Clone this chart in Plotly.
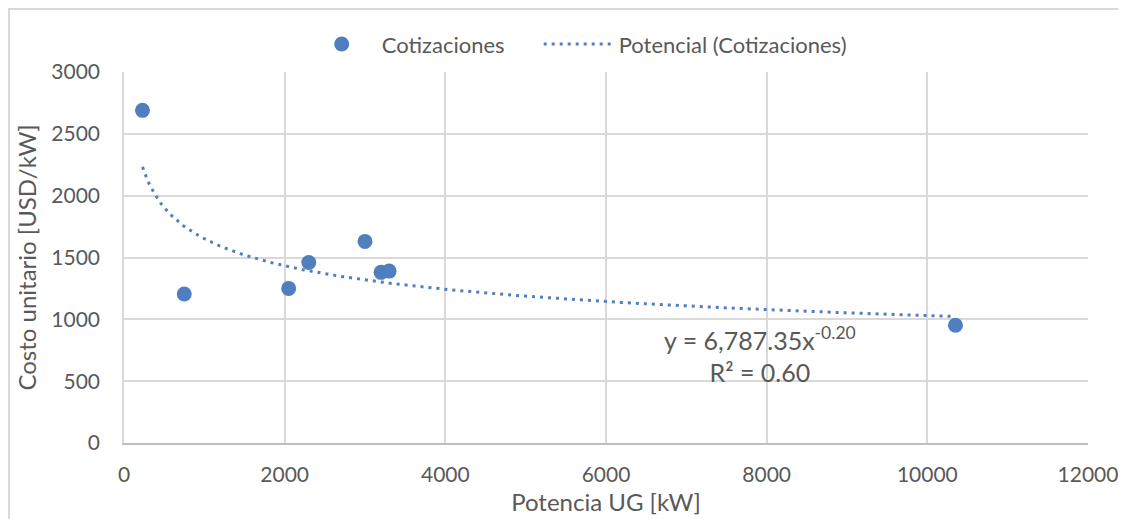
import numpy as np
import plotly.graph_objects as go

# Data
potencia_kw = [230, 750, 2050, 2300, 3000, 3200, 3300, 10350]
costo_usd_kw = [2690, 1205, 1250, 1460, 1630, 1380, 1390, 952]

x_ticks = [0, 2000, 4000, 6000, 8000, 10000, 12000]
y_ticks = [0, 500, 1000, 1500, 2000, 2500, 3000]

series_name = "Cotizaciones"
trend_name = "Potencial (Cotizaciones)"
eq_text = "y = 6,787.35x<sup>-0.20</sup><br>R² = 0.60"
title_text = "<b>Figura 3. Regresión de Costo Unitario vs Potencia Cotizada</b>"

# Power-law regression (same as Excel "Potencial" trendline)
lx = np.log(potencia_kw)
ly = np.log(costo_usd_kw)
b, ln_a = np.polyfit(lx, ly, 1)
a = np.exp(ln_a)
xt = np.linspace(min(potencia_kw), max(potencia_kw), 300)
yt = a * xt ** b

blue = "#4f7fbf"
grid = "#d9d9d9"
txt = "#595959"
font = "Lato"

fig = go.Figure()
fig.add_trace(go.Scatter(
    x=potencia_kw, y=costo_usd_kw, mode="markers", name=series_name,
    marker=dict(size=15, color=blue), legendwidth=152,
))
fig.add_trace(go.Scatter(
    x=xt, y=yt, mode="lines", name=trend_name,
    line=dict(color=blue, width=3, dash="3px,5px"),
))

fig.add_annotation(
    x=7920, y=712, xref="x", yref="y", text=eq_text, showarrow=False,
    font=dict(family=font, size=25, color=txt), align="center",
)

fig.add_annotation(
    x=0.473, y=1.1644, xref="paper", yref="paper", text=title_text, showarrow=False,
    font=dict(family=font, size=17, color="#000000"), yanchor="bottom",
)

# outer chart border
fig.add_shape(
    type="rect", xref="paper", yref="paper",
    x0=-0.1193, y0=-0.4, x1=1.2, y1=1.1698,
    line=dict(color=grid, width=2), fillcolor="rgba(0,0,0,0)", layer="below",
)

fig.update_layout(
    width=1126, height=519,
    margin=dict(l=116, r=46, t=64, b=84),
    paper_bgcolor="white", plot_bgcolor="white",
    font=dict(family=font, color=txt, size=21),
    legend=dict(
        orientation="h", x=0.4696, y=1.075, xanchor="center", yanchor="middle",
        font=dict(family=font, size=22, color=txt), itemwidth=70,
        bgcolor="rgba(0,0,0,0)",
    ),
    showlegend=True,
)
fig.update_xaxes(
    range=[0, 12000], tickvals=x_ticks, ticktext=[str(v) for v in x_ticks],
    showgrid=True, gridcolor=grid, gridwidth=1.5, zeroline=False,
    showline=True, linecolor="#bfbfbf", linewidth=1.5,
    ticks="", ticklabelstandoff=12,
    title=dict(text="Potencia UG [kW]", font=dict(family=font, size=24, color=txt), standoff=9),
    tickfont=dict(family=font, size=21, color=txt),
)
fig.update_yaxes(
    range=[0, 3000], tickvals=y_ticks, ticktext=[str(v) for v in y_ticks],
    showgrid=True, gridcolor=grid, gridwidth=1.5, zeroline=False,
    showline=True, linecolor=grid, linewidth=1.5,
    ticks="", ticklabelstandoff=18,
    title=dict(text="Costo unitario [USD/kW]", font=dict(family=font, size=24, color=txt), standoff=8),
    tickfont=dict(family=font, size=21, color=txt),
)

fig.write_html("out.html")
